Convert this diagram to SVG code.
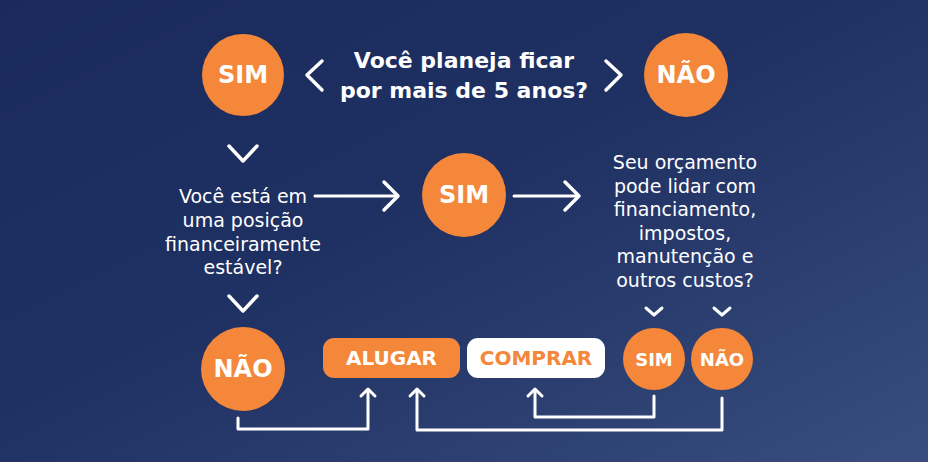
<svg xmlns="http://www.w3.org/2000/svg" width="928" height="462" viewBox="0 0 928 462">
<defs>
<linearGradient id="bg" x1="0" y1="0" x2="1" y2="1">
<stop offset="0" stop-color="#1a2a5c"/>
<stop offset="0.45" stop-color="#1f3062"/>
<stop offset="1" stop-color="#394d7f"/>
</linearGradient>
<style>
.c{fill:#f4873a}
.lbl{font-family:"DejaVu Sans",sans-serif;font-weight:bold;fill:#ffffff;text-anchor:middle}
.q{font-family:"DejaVu Sans",sans-serif;font-weight:bold;font-size:22px;fill:#ffffff;text-anchor:middle}
.t{font-family:"DejaVu Sans",sans-serif;font-size:19px;fill:#ffffff;text-anchor:middle}
.ln{fill:none;stroke:#ffffff;stroke-width:3;stroke-linecap:round;stroke-linejoin:round}
.ch{fill:none;stroke:#ffffff;stroke-width:3.5;stroke-linecap:round;stroke-linejoin:round}
.chs{fill:none;stroke:#ffffff;stroke-width:3;stroke-linecap:round;stroke-linejoin:round}
</style>
</defs>
<rect width="928" height="462" fill="url(#bg)"/>

<g id="q1">
<text class="q" x="464" y="68">Você planeja ficar</text>
<text class="q" x="464" y="98">por mais de 5 anos?</text>
</g>
<g id="sim1"><circle class="c" cx="243" cy="75" r="41"/><text class="lbl" x="243" y="83" font-size="24">SIM</text></g>
<g id="nao1"><circle class="c" cx="686" cy="75" r="42"/><text class="lbl" x="686" y="83" font-size="24">NÃO</text></g>

<g id="q2">
<text class="t" x="243" y="203">Você está em</text>
<text class="t" x="243" y="227">uma posição</text>
<text class="t" x="243" y="251">financeiramente</text>
<text class="t" x="243" y="274">estável?</text>
</g>
<g id="sim2"><circle class="c" cx="464" cy="195" r="42"/><text class="lbl" x="464" y="203" font-size="24">SIM</text></g>

<g id="q3">
<text class="t" x="685" y="169">Seu orçamento</text>
<text class="t" x="685" y="193">pode lidar com</text>
<text class="t" x="685" y="216">financiamento,</text>
<text class="t" x="685" y="240">impostos,</text>
<text class="t" x="685" y="263">manutenção e</text>
<text class="t" x="685" y="287">outros custos?</text>
</g>

<g id="nao2"><circle class="c" cx="243" cy="369" r="42"/><text class="lbl" x="243" y="377" font-size="24">NÃO</text></g>
<g id="alugar"><rect class="c" x="323" y="338" width="137" height="40" rx="11"/><text class="lbl" x="391.5" y="365" font-size="20">ALUGAR</text></g>
<g id="comprar"><rect x="467" y="338" width="138" height="40" rx="11" fill="#ffffff"/><text class="lbl" x="536" y="365" font-size="20" style="fill:#f4873a">COMPRAR</text></g>
<g id="sim3"><circle class="c" cx="654" cy="359" r="31"/><text class="lbl" x="654" y="366" font-size="18">SIM</text></g>
<g id="nao3"><circle class="c" cx="722" cy="359" r="31"/><text class="lbl" x="722" y="366" font-size="18">NÃO</text></g>

<g id="connectors">
<polyline class="ch" points="322,61 307,75 322,90"/>
<polyline class="ch" points="606,61 621,75 606,90"/>
<polyline class="ch" points="229,146 243,161 257,146"/>
<polyline class="ch" points="229,296 243,311 257,296"/>
<line class="ln" x1="315" y1="196" x2="397" y2="196"/>
<polyline class="ch" points="384,182 398,196 384,210"/>
<line class="ln" x1="514" y1="196" x2="578" y2="196"/>
<polyline class="ch" points="565,182 579,196 565,210"/>
<polyline class="chs" points="646,308 654,315 662,308"/>
<polyline class="chs" points="714,308 722,315 730,308"/>
<polyline class="ln" points="238,418 238,429 368,429 368,391"/>
<polyline class="ln" points="361,396 368,389 375,396"/>
<polyline class="ln" points="722,398 722,430 417,430 417,391"/>
<polyline class="ln" points="410,396 417,389 424,396"/>
<polyline class="ln" points="654,396 654,417 535,417 535,391"/>
<polyline class="ln" points="528,396 535,389 542,396"/>
</g>
</svg>
